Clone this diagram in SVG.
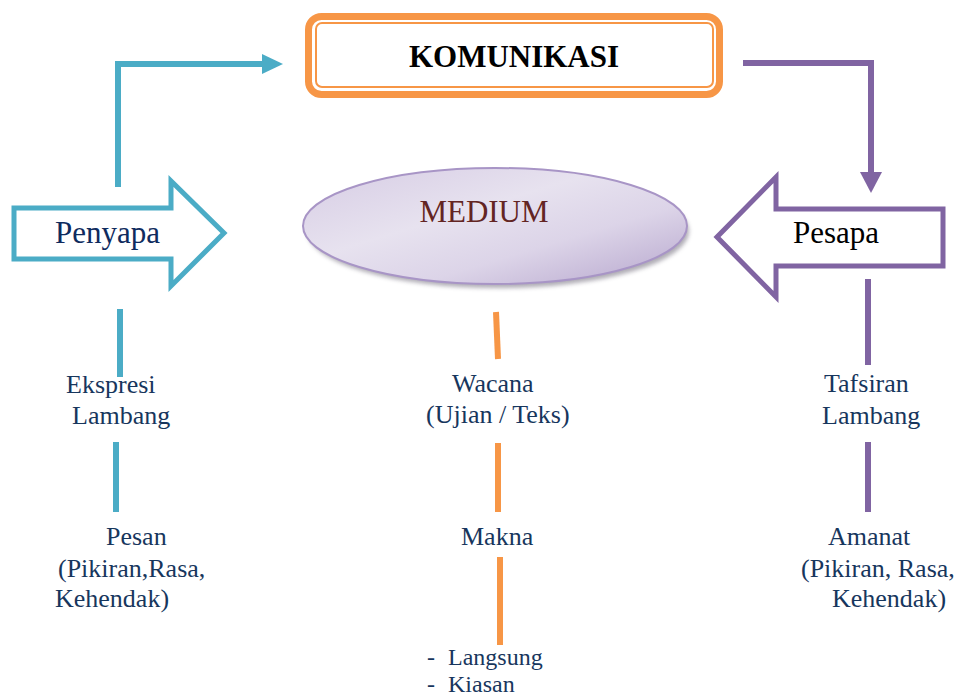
<svg xmlns="http://www.w3.org/2000/svg" width="961" height="700" viewBox="0 0 961 700">
<defs>
<linearGradient id="medGrad" x1="0" y1="0" x2="1" y2="1">
<stop offset="0" stop-color="#D6CCE4"/>
<stop offset="0.4" stop-color="#E7E2EF"/>
<stop offset="0.65" stop-color="#DCD4E8"/>
<stop offset="1" stop-color="#B6A6CD"/>
</linearGradient>
<filter id="blur" x="-10%" y="-20%" width="120%" height="140%"><feGaussianBlur stdDeviation="2"/></filter>
<marker id="tealHead" markerWidth="22" markerHeight="20" refX="0" refY="10" orient="auto" markerUnits="userSpaceOnUse"><polygon points="0,0 21,10 0,20" fill="#4BACC6"/></marker>
<marker id="purpHead" markerWidth="22" markerHeight="22" refX="0" refY="11" orient="auto" markerUnits="userSpaceOnUse"><polygon points="0,0 21,11 0,22" fill="#8064A2"/></marker>
</defs>
<style>
text{font-family:'Liberation Serif','Tinos','DejaVu Serif','Noto Serif',serif}
.lbl{font-size:26px;fill:#17365D}
.sm{font-size:24px}
.big{font-size:31px}
.teal{stroke:#4BACC6;stroke-width:6;fill:none}
.purp{stroke:#8064A2;stroke-width:6;fill:none}
.orng{stroke:#F79646;stroke-width:6;fill:none}
</style>
<rect width="961" height="700" fill="#FFFFFF"/>

<g id="connectors">
<polyline class="teal" points="118,187 118,64 262,64" marker-end="url(#tealHead)"/>
<polyline class="purp" points="743,63 871,63 871,172" marker-end="url(#purpHead)"/>
<line class="teal" x1="120" y1="309" x2="120" y2="377"/>
<line class="teal" x1="116" y1="442" x2="116" y2="512"/>
<line class="orng" x1="496" y1="312" x2="498" y2="359"/>
<line class="orng" x1="498" y1="443" x2="498" y2="512"/>
<line class="orng" x1="500" y1="557" x2="500" y2="645"/>
<line class="purp" x1="868" y1="279" x2="868" y2="365"/>
<line class="purp" x1="868" y1="442" x2="868" y2="512"/>
</g>

<g id="komunikasi">
<rect x="308.5" y="16.5" width="411" height="78" rx="13" fill="#FFFFFF" stroke="#F79646" stroke-width="7"/>
<rect x="316" y="23" width="397" height="64" rx="6" fill="none" stroke="#F79646" stroke-width="2"/>
<text class="big" x="514" y="67" text-anchor="middle" font-weight="bold" fill="#000000">KOMUNIKASI</text>
</g>

<g id="medium">
<ellipse cx="498" cy="231" rx="191" ry="57" fill="#8E8A96" opacity="0.7" filter="url(#blur)"/>
<ellipse cx="495" cy="226" rx="192" ry="58" fill="url(#medGrad)" stroke="#A895C6" stroke-width="2"/>
<text class="big" x="484" y="222" text-anchor="middle" fill="#632523">MEDIUM</text>
</g>

<g id="penyapa">
<path d="M14,208 L171,208 L171,181 L224,233 L171,286 L171,259 L14,259 Z" fill="#FFFFFF" stroke="#4BACC6" stroke-width="5" stroke-linejoin="miter"/>
<text class="big" x="55" y="243" fill="#0F2B5E">Penyapa</text>
</g>

<g id="pesapa">
<path d="M717,237 L776,177 L776,209 L943,209 L943,266 L776,266 L776,297 Z" fill="#FFFFFF" stroke="#8064A2" stroke-width="5" stroke-linejoin="miter"/>
<text class="big" x="793" y="243" fill="#000000">Pesapa</text>
</g>

<g id="ekspresi">
<text class="lbl" x="66" y="393">Ekspresi</text>
<text class="lbl" x="72" y="424">Lambang</text>
</g>
<g id="pesan">
<text class="lbl" x="106" y="545">Pesan</text>
<text class="lbl" x="58" y="577">(Pikiran,Rasa,</text>
<text class="lbl" x="55" y="607">Kehendak)</text>
</g>
<g id="wacana">
<text class="lbl" x="452" y="392">Wacana</text>
<text class="lbl" x="426" y="423">(Ujian / Teks)</text>
</g>
<g id="makna">
<text class="lbl" x="461" y="545">Makna</text>
</g>
<g id="jenis">
<text class="lbl sm" x="427" y="665">-</text>
<text class="lbl sm" x="448" y="665">Langsung</text>
<text class="lbl sm" x="427" y="692">-</text>
<text class="lbl sm" x="448" y="692">Kiasan</text>
</g>
<g id="tafsiran">
<text class="lbl" x="824" y="392">Tafsiran</text>
<text class="lbl" x="822" y="424">Lambang</text>
</g>
<g id="amanat">
<text class="lbl" x="828" y="545">Amanat</text>
<text class="lbl" x="801" y="577">(Pikiran, Rasa,</text>
<text class="lbl" x="832" y="607">Kehendak)</text>
</g>
</svg>
